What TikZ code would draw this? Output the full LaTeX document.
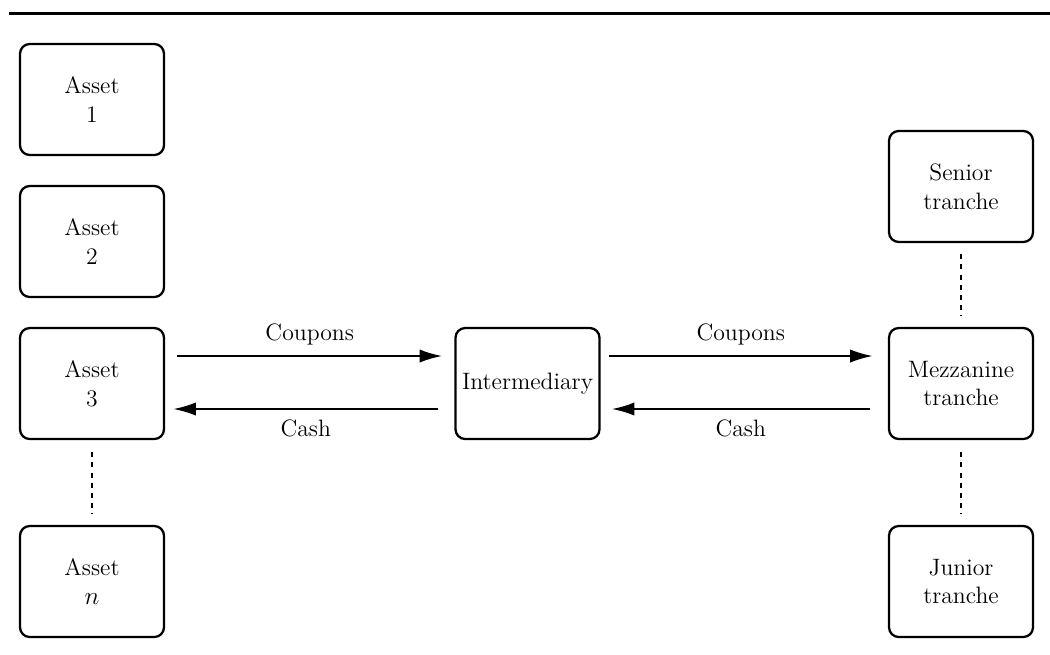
\documentclass[tikz,border=0pt]{standalone}
\usetikzlibrary{arrows.meta}

\begin{document}
\begin{tikzpicture}[
  box/.style={draw,rounded corners=5.5pt,line width=1.3pt,minimum width=2.88cm,minimum height=2.22cm,
    align=center,inner sep=2pt,font=\fontsize{13.5}{16.5}\selectfont},
  flow/.style={-{Latex[length=13pt,width=7.6pt]},line width=1.3pt},
  link/.style={line width=1.6pt,dash pattern=on 2.9pt off 2.9pt},
  lbl/.style={font=\fontsize{13.5}{16.5}\selectfont},
  x=0.02cm,y=-0.02cm
]
  \useasboundingbox (0,0) rectangle (1050,654);
  \draw[line width=2pt] (9,13.5) -- (1050,13.5);
  % pool of assets
  \foreach \i/\txt/\yy in {1/1/99.5,2/2/241.5,3/3/383.5,n/$n$/581.5}
    \node[box] (a\i) at (92,\yy) {Asset\\\txt};
  \node[box] (inter) at (527.5,383.5) {Intermediary};
  % tranches
  \foreach \nm/\txt/\yy in {sen/Senior/186.5,mez/Mezzanine/383.5,jun/Junior/581.5}
    \node[box] (\nm) at (961,\yy) {\txt\\tranche};
  \draw[link] ([yshift=-0.24cm]a3.south) -- ([yshift=0.22cm]an.north);
  \draw[link] ([yshift=-0.22cm]sen.south) -- ([yshift=0.22cm]mez.north);
  \draw[link] ([yshift=-0.24cm]mez.south) -- ([yshift=0.22cm]jun.north);
  % cash flows
  \draw[flow] ([xshift=0.24cm,yshift=0.55cm]a3.east) -- node[lbl,above=2pt]{Coupons} ([xshift=-0.24cm,yshift=0.55cm]inter.west);
  \draw[flow] ([xshift=-0.32cm,yshift=-0.51cm]inter.west) -- node[lbl,below=2pt]{Cash} ([xshift=0.16cm,yshift=-0.51cm]a3.east);
  \draw[flow] ([xshift=0.16cm,yshift=0.55cm]inter.east) -- node[lbl,above=2pt]{Coupons} ([xshift=-0.3cm,yshift=0.55cm]mez.west);
  \draw[flow] ([xshift=-0.36cm,yshift=-0.51cm]mez.west) -- node[lbl,below=2pt]{Cash} ([xshift=0.22cm,yshift=-0.51cm]inter.east);
\end{tikzpicture}
\end{document}
